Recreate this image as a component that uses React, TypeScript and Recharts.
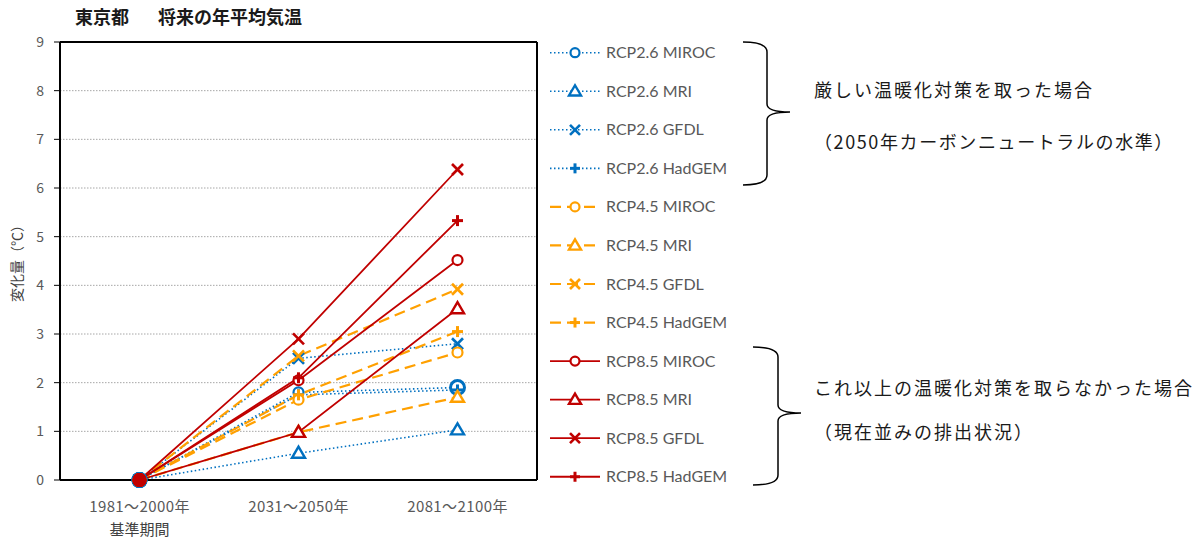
import React from "react";
import { LineChart, Line, XAxis, YAxis, CartesianGrid } from "recharts";

// 期間（カテゴリ）
const periods = ["1981～2000年", "2031～2050年", "2081～2100年"];
const yTicks = [0, 1, 2, 3, 4, 5, 6, 7, 8, 9];

// 各シナリオ・モデルの変化量（℃）
const rcp26Miroc = [0, 1.8, 1.9];
const rcp26Mri = [0, 0.55, 1.03];
const rcp26Gfdl = [0, 2.5, 2.8];
const rcp26Hadgem = [0, 1.75, 1.85];
const rcp45Miroc = [0, 1.65, 2.62];
const rcp45Mri = [0, 0.98, 1.7];
const rcp45Gfdl = [0, 2.55, 3.92];
const rcp45Hadgem = [0, 1.75, 3.05];
const rcp85Miroc = [0, 2.05, 4.52];
const rcp85Mri = [0, 0.98, 3.52];
const rcp85Gfdl = [0, 2.9, 6.38];
const rcp85Hadgem = [0, 2.1, 5.33];

const seriesNames = [
  "RCP2.6 MIROC",
  "RCP2.6 MRI",
  "RCP2.6 GFDL",
  "RCP2.6 HadGEM",
  "RCP4.5 MIROC",
  "RCP4.5 MRI",
  "RCP4.5 GFDL",
  "RCP4.5 HadGEM",
  "RCP8.5 MIROC",
  "RCP8.5 MRI",
  "RCP8.5 GFDL",
  "RCP8.5 HadGEM",
];
const seriesValues = [
  rcp26Miroc, rcp26Mri, rcp26Gfdl, rcp26Hadgem,
  rcp45Miroc, rcp45Mri, rcp45Gfdl, rcp45Hadgem,
  rcp85Miroc, rcp85Mri, rcp85Gfdl, rcp85Hadgem,
];

const data = periods.map((period, i) => {
  const row: Record<string, string | number> = { period };
  seriesNames.forEach((name, s) => {
    row[name] = seriesValues[s][i];
  });
  return row;
});

const JP = '"Noto Sans CJK JP", "Noto Sans", sans-serif';
const LAT = 'Lato, "Noto Sans", sans-serif';

const scenarioStyle: Record<string, { color: string; dash?: string; width: number }> = {
  "RCP2.6": { color: "#0070C0", dash: "1.5 2.5", width: 1.6 },
  "RCP4.5": { color: "#FFA000", dash: "11 6", width: 2.2 },
  "RCP8.5": { color: "#C00000", width: 1.8 },
};
const modelShape: Record<string, string> = {
  MIROC: "circle",
  MRI: "triangle",
  GFDL: "x",
  HadGEM: "plus",
};

const styleOf = (name: string) => scenarioStyle[name.split(" ")[0]];
const shapeOf = (name: string) => modelShape[name.split(" ")[1]];

const Marker = ({ cx, cy, shape, color, r = 5 }: any) => {
  if (shape === "circle") {
    return <circle cx={cx} cy={cy} r={r} fill="#fff" stroke={color} strokeWidth={r > 5 ? 3 : 2.2} />;
  }
  if (shape === "triangle") {
    const s = r + 1.5;
    return (
      <polygon
        points={`${cx},${cy - s} ${cx - s},${cy + s * 0.7} ${cx + s},${cy + s * 0.7}`}
        fill="#fff"
        stroke={color}
        strokeWidth={2.4}
        strokeLinejoin="miter"
      />
    );
  }
  if (shape === "x") {
    const s = r + 0.5;
    return (
      <g stroke={color} strokeWidth={2.6}>
        <line x1={cx - s} y1={cy - s} x2={cx + s} y2={cy + s} />
        <line x1={cx - s} y1={cy + s} x2={cx + s} y2={cy - s} />
      </g>
    );
  }
  const s = r + 0.5;
  return (
    <g stroke={color} strokeWidth={3}>
      <line x1={cx - s} y1={cy} x2={cx + s} y2={cy} />
      <line x1={cx} y1={cy - s} x2={cx} y2={cy + s} />
    </g>
  );
};

const makeDot = (name: string) => (props: any) => {
  const { cx, cy, index, key } = props;
  const st = styleOf(name);
  if (cx == null || cy == null) return <g key={key} />;
  if (index === 0) {
    const r0 = name.startsWith("RCP2.6") ? 8 : 7;
    return <circle key={key} cx={cx} cy={cy} r={r0} fill={st.color} />;
  }
  const big = name === "RCP2.6 MIROC" && index === 2;
  return (
    <g key={key}>
      <Marker cx={cx} cy={cy} shape={shapeOf(name)} color={st.color} r={big ? 7 : 5} />
    </g>
  );
};

const XTick = ({ x, y, payload }: any) => (
  <g>
    <text x={x} y={y + 32} textAnchor="middle" fill="#595959" fontSize={15} letterSpacing={0.4} fontFamily={JP}>
      {payload.value}
    </text>
    {payload.index === 0 && (
      <text x={x} y={y + 55} textAnchor="middle" fill="#404040" fontSize={15} fontFamily={JP}>
        基準期間
      </text>
    )}
  </g>
);

const Overlay = () => {
  const rowY = (i: number) => 52.7 + 38.55 * i;
  return (
    <svg
      width={1203}
      height={539}
      style={{ position: "absolute", left: 0, top: 0, pointerEvents: "none" }}
    >
      {/* title */}
      <text x={75} y={24} fontSize={18} fontWeight="bold" fontFamily={JP} fill="#1a1a1a">
        東京都
      </text>
      <text x={158} y={24} fontSize={18} fontWeight="bold" fontFamily={JP} fill="#1a1a1a">
        将来の年平均気温
      </text>

      {/* y axis title */}
      <text
        x={0}
        y={0}
        transform="translate(22,260) rotate(-90)"
        textAnchor="middle"
        fontSize={14}
        fontFamily={JP}
        fill="#404040"
      >
        変化量（℃）
      </text>

      {/* legend */}
      {seriesNames.map((name, i) => {
        const st = styleOf(name);
        const y = rowY(i);
        return (
          <g key={name}>
            <line
              x1={550}
              y1={y}
              x2={600}
              y2={y}
              stroke={st.color}
              strokeWidth={st.width}
              strokeDasharray={st.dash}
            />
            <Marker cx={575} cy={y} shape={shapeOf(name)} color={st.color} r={4.5} />
            <text x={606} y={y + 5.5} fontSize={16} fontFamily={LAT} fill="#595959">
              {name}
            </text>
          </g>
        );
      })}

      {/* braces */}
      <path
        d="M743,42 Q767,42 767,52 L767,104 Q767,112 790,112 Q767,112 767,120 L767,175 Q767,185 743,185"
        fill="none"
        stroke="#000"
        strokeWidth={1.5}
      />
      <path
        d="M753,347 Q778,347 778,357 L778,405 Q778,413 801,413 Q778,413 778,421 L778,475 Q778,485 753,485"
        fill="none"
        stroke="#000"
        strokeWidth={1.5}
      />

      {/* annotations */}
      <text x={814} y={97} fontSize={18} letterSpacing={2} fontFamily={JP} fill="#1a1a1a">
        厳しい温暖化対策を取った場合
      </text>
      <text x={814} y={149} fontSize={18} letterSpacing={1.6} fontFamily={JP} fill="#1a1a1a">
        （2050年カーボンニュートラルの水準）
      </text>
      <text x={814} y={395} fontSize={18} letterSpacing={2} fontFamily={JP} fill="#1a1a1a">
        これ以上の温暖化対策を取らなかった場合
      </text>
      <text x={814} y={439} fontSize={18} letterSpacing={2} fontFamily={JP} fill="#1a1a1a">
        （現在並みの排出状況）
      </text>
    </svg>
  );
};

export default function App() {
  return (
    <div style={{ position: "absolute", left: 0, top: 0, width: 1203, height: 539, background: "#fff" }}>
      <LineChart
        width={1203}
        height={539}
        data={data}
        margin={{ top: 41, right: 665, bottom: 0, left: 0 }}
      >
        <CartesianGrid
          horizontal
          vertical={false}
          stroke="#A6A6A6"
          strokeDasharray="1.5 1.5"
          horizontalValues={[1, 2, 3, 4, 5, 6, 7, 8]}
        />
        <XAxis
          dataKey="period"
          height={59}
          padding={{ left: 79.5, right: 79.5 }}
          tickLine={false}
          tickSize={0}
          tickMargin={0}
          axisLine={{ stroke: "#000", strokeWidth: 2 }}
          tick={<XTick />}
          interval={0}
        />
        <XAxis
          xAxisId="top"
          dataKey="period"
          orientation="top"
          height={1}
          padding={{ left: 79.5, right: 79.5 }}
          tick={false}
          tickLine={false}
          axisLine={{ stroke: "#000", strokeWidth: 2 }}
        />
        <YAxis
          type="number"
          domain={[0, 9]}
          ticks={yTicks}
          width={60}
          interval={0}
          tickSize={6}
          tickMargin={10}
          tickLine={{ stroke: "#000" }}
          axisLine={{ stroke: "#000", strokeWidth: 2 }}
          tick={{ fill: "#595959", fontSize: 14, fontFamily: JP }}
        />
        <YAxis
          yAxisId="right"
          orientation="right"
          width={1}
          domain={[0, 9]}
          tick={false}
          tickLine={false}
          axisLine={{ stroke: "#000", strokeWidth: 2 }}
        />
        {seriesNames.map((name) => {
          const st = styleOf(name);
          return (
            <Line
              key={name}
              type="linear"
              dataKey={name}
              stroke={st.color}
              strokeWidth={st.width}
              strokeDasharray={st.dash}
              dot={makeDot(name)}
              activeDot={false}
              isAnimationActive={false}
            />
          );
        })}
      </LineChart>
      <Overlay />
    </div>
  );
}
